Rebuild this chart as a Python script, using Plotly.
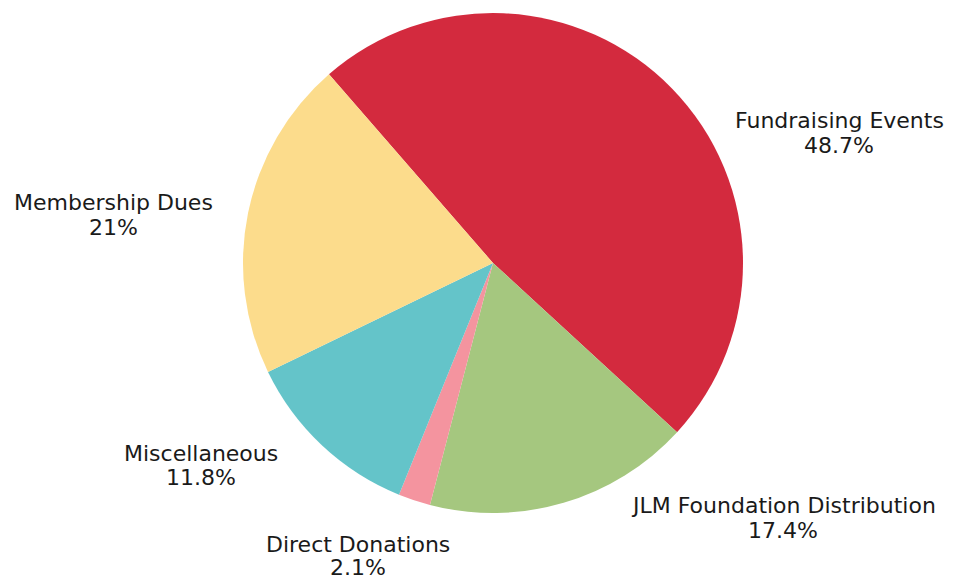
import plotly.graph_objects as go

categories = ["Fundraising Events", "JLM Foundation Distribution", "Direct Donations",
              "Miscellaneous", "Membership Dues"]
values = [48.7, 17.4, 2.1, 11.8, 21]
pct_labels = ["48.7%", "17.4%", "2.1%", "11.8%", "21%"]
colors = ["#D32A3E", "#A5C77F", "#F4949F", "#64C4C9", "#FCDC8C"]

# label line centres in pixels: (x centre, y of name line, y of percent line) (layout only)
label_pos_px = [(839, 121, 145), (783, 506, 530), (358, 544, 567), (201, 453, 477), (113, 203, 227)]

W, H = 953, 579
OFF = 8  # page offset of the figure

fig = go.Figure(go.Pie(
    labels=categories,
    values=values,
    text=pct_labels,
    textinfo="none",
    sort=False,
    direction="clockwise",
    rotation=-41,
    marker=dict(colors=colors, line=dict(width=0)),
    showlegend=False,
    domain=dict(x=[0.02, 2 * (493 - OFF) / W - 0.02],
                y=[1 - (513 - OFF) / H, 1 - (13 - OFF) / H]),
    hoverinfo="label+text",
))

font = dict(family="DejaVu Sans", size=22, color="#1a1a1a")
for cat, pct, (px, py1, py2) in zip(categories, pct_labels, label_pos_px):
    for txt, py in ((cat, py1), (pct, py2)):
        fig.add_annotation(
            x=(px - OFF) / W, y=1 - (py - OFF) / H, xref="paper", yref="paper",
            text=txt, showarrow=False,
            xanchor="center", yanchor="middle", align="center",
            font=font,
        )

fig.update_layout(
    width=W, height=H,
    margin=dict(l=0, r=0, t=0, b=0),
    paper_bgcolor="white",
    plot_bgcolor="white",
)

fig.write_html("out.html")
